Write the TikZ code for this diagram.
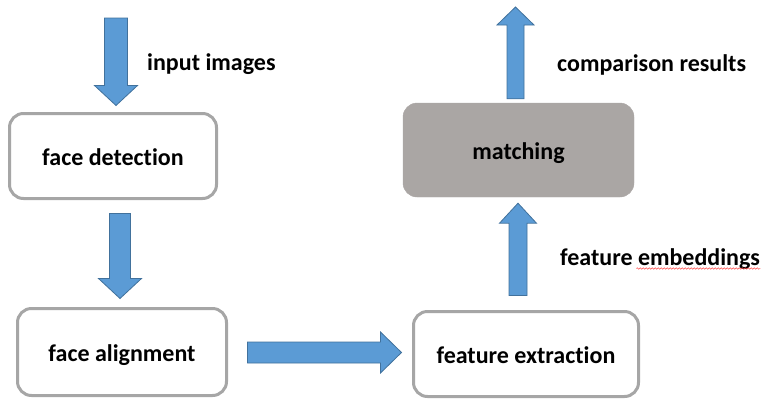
\documentclass[tikz,border=0pt]{standalone}
\usepackage{fontspec}
\setmainfont{Carlito}[Ligatures=NoCommon]
\usetikzlibrary{positioning,calc,arrows.meta,decorations.pathmorphing}
\definecolor{arrfill}{RGB}{91,155,213}
\definecolor{arrline}{RGB}{65,113,156}
\definecolor{boxline}{RGB}{166,166,166}
\definecolor{matchfill}{RGB}{170,166,164}
\tikzstyle{stagebox} = [draw=boxline, line width=3pt, rounded corners=14pt, fill=white, font=\fontsize{24}{28}\selectfont\bfseries, text height=22pt, text depth=4pt]
\tikzstyle{matchbox} = [stagebox, draw=matchfill, fill=matchfill, line width=0.4pt]
\tikzstyle{blockarr} = [draw=arrline, fill=arrfill, line width=0.8pt, line join=miter]
\tikzstyle{sidelabel} = [inner sep=0pt, anchor=base west, font=\fontsize{24}{28}\selectfont\bfseries]
\tikzstyle{spellmark} = [draw=red!70, line width=0.5pt, decorate, decoration={snake, amplitude=0.7pt, segment length=3pt}]
\newcommand{\blockarrow}[5]{% #1: tail; #2: tip; #3: half shaft; #4: half head; #5: head length
  \coordinate (hb) at ($(#2)!#5!(#1)$);
  \draw[blockarr] ($(#1)!#3!90:(#2)$) -- ($(hb)!#3!90:(#2)$) -- ($(hb)!#4!90:(#2)$) --
    (#2) -- ($(hb)!#4!-90:(#2)$) -- ($(hb)!#3!-90:(#2)$) -- ($(#1)!#3!-90:(#2)$) -- cycle;
}

\begin{document}
\begin{tikzpicture}[x=1pt, y=-1pt]
  \useasboundingbox (0,0) rectangle (764,400);
  % stages
  \node[stagebox, minimum width=207pt, minimum height=85pt] (det) at (113,156) {face detection};
  \node[stagebox, minimum width=209pt, minimum height=87pt] (ali) at (122,352) {face alignment};
  \node[stagebox, minimum width=225pt, minimum height=85pt] (ext) at (526,354) {feature extraction};
  \node[matchbox, minimum width=231pt, minimum height=94pt] (mat) at (518.5,150) {matching};
  % arrow ends
  \coordinate (imgsrc) at (116,18);
  \coordinate (det-n) at ($(det.north)+(3,-6.5)$);
  \coordinate (det-s) at ($(det.south)+(7,13.5)$);
  \coordinate (ali-n) at ($(ali.north)+(-2,-8.5)$);
  \coordinate (ali-e) at ($(ali.east)+(19.5,0.5)$);
  \coordinate (ext-w) at ($(ext.west)+(-10.5,-1.5)$);
  \coordinate (ext-n) at ($(ext.north)+(-8,-14.5)$);
  \coordinate (mat-s) at ($(mat.south)+(-0.5,6)$);
  \coordinate (mat-n) at ($(mat.north)+(-3,-4)$);
  \coordinate (cmpout) at (515.5,7);
  \blockarrow{imgsrc}{det-n}{11.5pt}{21.5pt}{20pt}
  \blockarrow{det-s}{ali-n}{10.5pt}{21.5pt}{20pt}
  \blockarrow{ali-e}{ext-w}{10.5pt}{20.5pt}{21pt}
  \blockarrow{ext-n}{mat-s}{9pt}{18.5pt}{20pt}
  \blockarrow{mat-n}{cmpout}{8.5pt}{18.5pt}{18pt}
  % labels
  \node[sidelabel] (limg) at (147,70) {input images};
  \node[sidelabel] (lcmp) at (557,71) {comparison results};
  \node[sidelabel] (lemb) at (560,265) {feature embeddings};
  \draw[spellmark] ($(lemb.base east)+(-124,3.5)$) -- ($(lemb.base east)+(0,3.5)$);
\end{tikzpicture}
\end{document}
